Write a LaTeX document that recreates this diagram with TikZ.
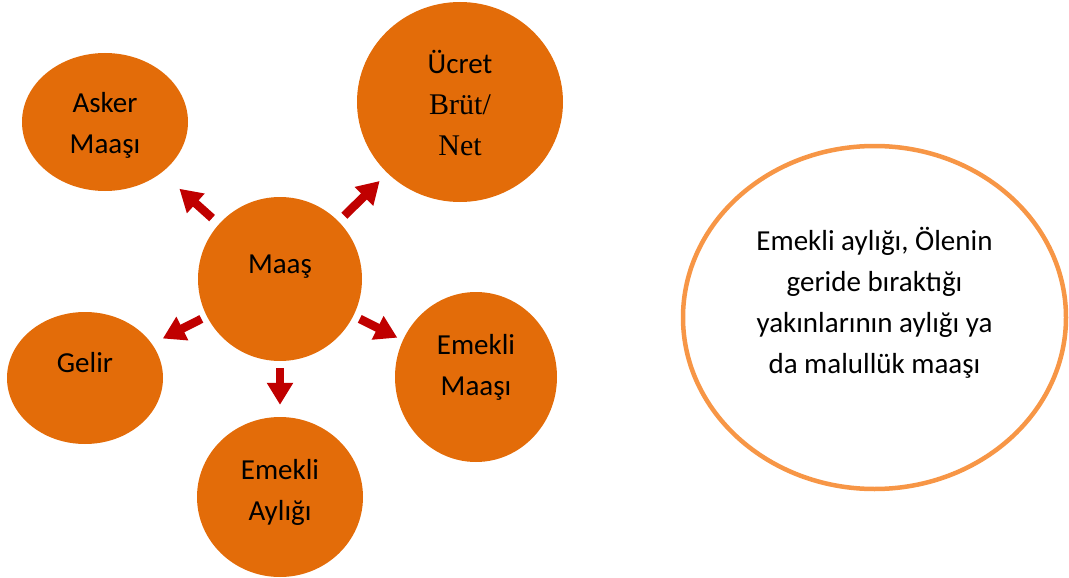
\documentclass[tikz,border=0pt]{standalone}
\usepackage{fontspec}
\usepackage{tikz}
\usepackage{xcolor}
\usetikzlibrary{
    arrows.meta,
    shapes,
    shapes.geometric
}
\setmainfont{Carlito}
\newfontfamily\timesfont{Liberation Serif}
\definecolor{maasorange}{HTML}{E36C09}
\definecolor{maasred}{HTML}{C00000}
\definecolor{notorange}{HTML}{F79646}

\tikzset{
    ball/.style={ellipse, fill=maasorange, inner sep=0pt},
    balltext/.style={font=\fontsize{29}{41}\selectfont, align=center, text=black, inner sep=0pt},
    blockarrow/.style={maasred, line width=8.5pt, -{Triangle[width=25pt, length=22pt]}}
}

\begin{document}
\begin{tikzpicture}[x=1pt, y=-1pt]
            \useasboundingbox (0,0) rectangle (1069,578);

            \node[ball, minimum width=164pt, minimum height=164pt, label={[balltext, yshift=12pt]center:Maaş}] (maas) at (280,279) {};

            \node[ball, minimum width=166pt, minimum height=138pt, label={[balltext, yshift=-3pt]center:Asker\\Maaşı}] (asker) at (105,122) {};
            \node[ball, minimum width=206pt, minimum height=200pt, label={[balltext, yshift=-1pt]center:Ücret\\{\timesfont\fontsize{30}{41}\selectfont Brüt/}\\{\timesfont\fontsize{30}{41}\selectfont Net}}] (ucret) at (460,102) {};
            \node[ball, minimum width=156pt, minimum height=132pt, label={[balltext, yshift=15pt]center:Gelir}] (gelir) at (85,378) {};
            \node[ball, minimum width=162pt, minimum height=170pt, label={[balltext, yshift=10pt]center:Emekli\\Maaşı}] (emaas) at (476,377) {};
            \node[ball, minimum width=166pt, minimum height=160pt, label={[balltext, yshift=5pt]center:Emekli\\Aylığı}] (eayl) at (280,497) {};

            \draw[blockarrow, shorten <=9pt, shorten >=24pt] (maas)--(asker);
            \draw[blockarrow, shorten <=8pt, shorten >=11pt] (maas)--(ucret);
            \draw[blockarrow, shorten <=6pt, shorten >=12pt] (maas)--(gelir);
            \draw[blockarrow, shorten <=7pt, shorten >=6pt]  (maas)--(emaas);
            \draw[blockarrow, shorten <=7pt, shorten >=12pt] (maas)--(eayl);

            \node[ellipse, draw=notorange, line width=4.5pt, fill=white, minimum width=383pt, minimum height=343pt, inner sep=0pt,
                  label={[balltext, yshift=14.5pt]center:Emekli aylığı, Ölenin\\geride bıraktığı\\yakınlarının aylığı ya\\da malullük maaşı}] (aciklama) at (874.5,317.5) {};
\end{tikzpicture}
\end{document}
